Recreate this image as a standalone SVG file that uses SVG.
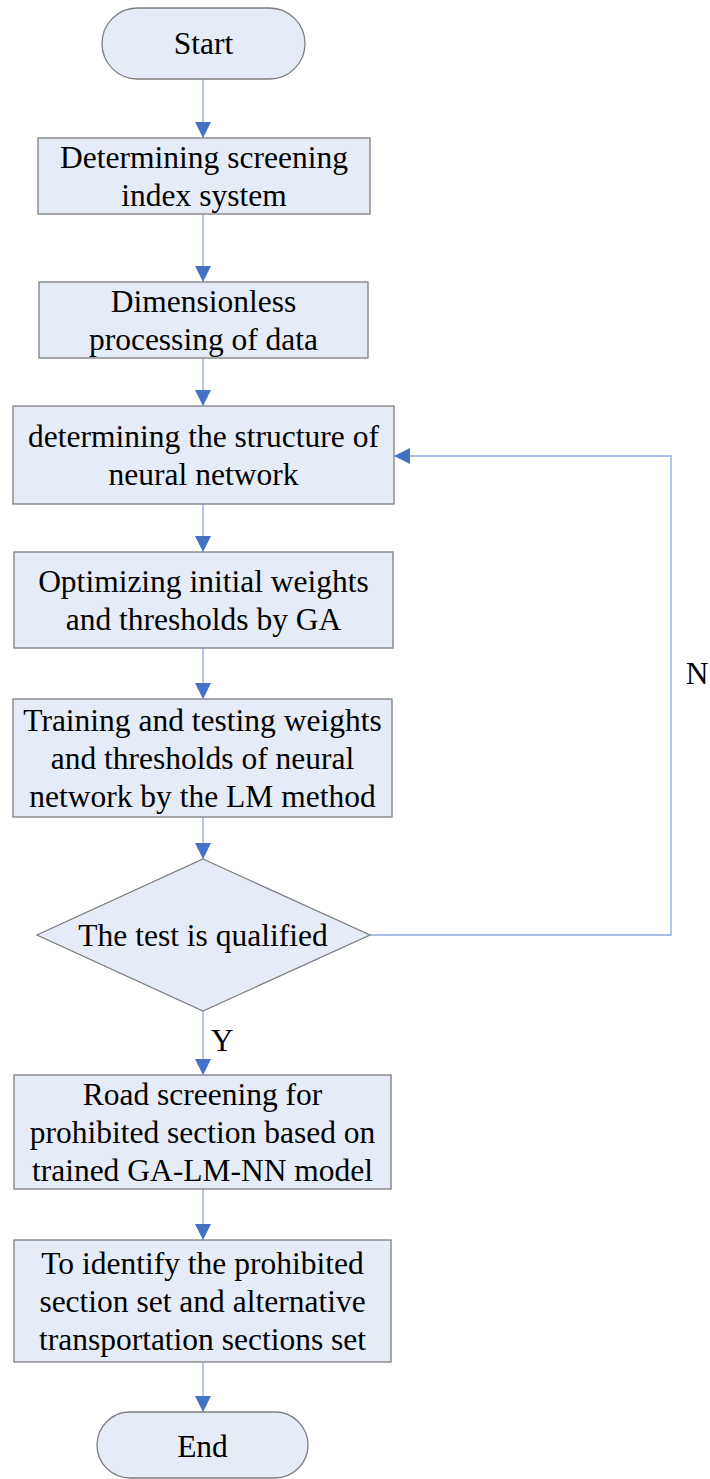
<svg xmlns="http://www.w3.org/2000/svg" width="710" height="1479" viewBox="0 0 710 1479">
<style>
.n{fill:#E6ECF7;stroke:#7F7F7F;stroke-width:1.3}
.t{font-family:"Liberation Serif","Times New Roman",serif;font-size:31.5px;fill:#000;text-anchor:middle}
.c{fill:none;stroke:#8FAADC;stroke-width:1.3}
</style>
<defs>
<marker id="ah" markerUnits="userSpaceOnUse" markerWidth="16" markerHeight="16" viewBox="0 0 16 16" refX="16" refY="8" orient="auto">
<path d="M0,0 L16,8 L0,16 Z" fill="#4472C4"/>
</marker>
</defs>
<rect width="710" height="1479" fill="#fff"/>
<g id="connectors">
<line class="c" x1="203" y1="79" x2="203" y2="138" marker-end="url(#ah)"/>
<line class="c" x1="203" y1="214" x2="203" y2="282" marker-end="url(#ah)"/>
<line class="c" x1="203" y1="358" x2="203" y2="406" marker-end="url(#ah)"/>
<line class="c" x1="203" y1="504" x2="203" y2="552" marker-end="url(#ah)"/>
<line class="c" x1="203" y1="648" x2="203" y2="699" marker-end="url(#ah)"/>
<line class="c" x1="203" y1="817" x2="203" y2="859" marker-end="url(#ah)"/>
<line class="c" x1="203" y1="1011" x2="203" y2="1075" marker-end="url(#ah)"/>
<line class="c" x1="203" y1="1189" x2="203" y2="1240" marker-end="url(#ah)"/>
<line class="c" x1="203" y1="1362" x2="203" y2="1412" marker-end="url(#ah)"/>
<polyline class="c" points="370,935 671,935 671,456 394,456" marker-end="url(#ah)"/>
<text class="t" x="697" y="684">N</text>
<text class="t" x="222" y="1051">Y</text>
</g>
<g id="start">
<rect class="n" x="102" y="8" width="203" height="71" rx="35.5"/>
<text class="t" x="203.5" y="54">Start</text>
</g>
<g id="box1">
<rect class="n" x="38" y="138" width="332" height="76"/>
<text class="t" x="204" y="168">Determining screening</text>
<text class="t" x="204" y="206">index system</text>
</g>
<g id="box2">
<rect class="n" x="39" y="282" width="329" height="76"/>
<text class="t" x="203.5" y="312">Dimensionless</text>
<text class="t" x="203.5" y="350">processing of data</text>
</g>
<g id="box3">
<rect class="n" x="13" y="406" width="381" height="98"/>
<text class="t" x="203.5" y="447">determining the structure of</text>
<text class="t" x="203.5" y="485">neural network</text>
</g>
<g id="box4">
<rect class="n" x="14" y="552" width="379" height="96"/>
<text class="t" x="203.5" y="592">Optimizing initial weights</text>
<text class="t" x="203.5" y="630">and thresholds by GA</text>
</g>
<g id="box5">
<rect class="n" x="13" y="699" width="379" height="118"/>
<text class="t" x="202.5" y="731">Training and testing weights</text>
<text class="t" x="202.5" y="769">and thresholds of neural</text>
<text class="t" x="202.5" y="807">network by the LM method</text>
</g>
<g id="decision">
<polygon class="n" points="203,859 370,935 203,1011 37,935"/>
<text class="t" x="203" y="946">The test is qualified</text>
</g>
<g id="box6">
<rect class="n" x="14" y="1075" width="377" height="114"/>
<text class="t" x="202.5" y="1105">Road screening for</text>
<text class="t" x="202.5" y="1143">prohibited section based on</text>
<text class="t" x="202.5" y="1181">trained GA-LM-NN model</text>
</g>
<g id="box7">
<rect class="n" x="14" y="1240" width="377" height="122"/>
<text class="t" x="202.5" y="1274">To identify the prohibited</text>
<text class="t" x="202.5" y="1312">section set and alternative</text>
<text class="t" x="202.5" y="1350">transportation sections set</text>
</g>
<g id="end">
<rect class="n" x="97" y="1412" width="211" height="66" rx="33"/>
<text class="t" x="202.5" y="1457">End</text>
</g>
</svg>
